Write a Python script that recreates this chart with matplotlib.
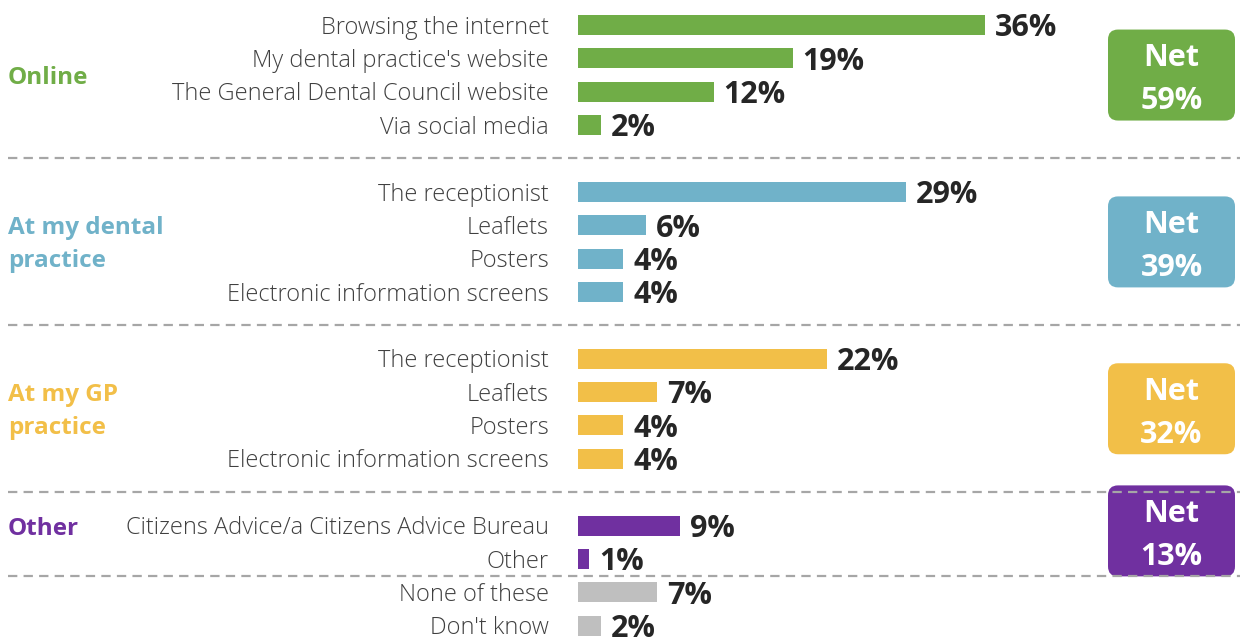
import matplotlib.pyplot as plt
from matplotlib.patches import FancyBboxPatch

# survey answers, grouped by source
group_names = ["Online", "At my dental\npractice", "At my GP\npractice", "Other", ""]
group_colors = ["#70AD47", "#70B2C9", "#F2BF48", "#7030A0", "#BFBFBF"]

online_labels = ["Browsing the internet", "My dental practice's website",
                 "The General Dental Council website", "Via social media"]
online_values = [36, 19, 12, 2]
dental_labels = ["The receptionist", "Leaflets", "Posters", "Electronic information screens"]
dental_values = [29, 6, 4, 4]
gp_labels = ["The receptionist", "Leaflets", "Posters", "Electronic information screens"]
gp_values = [22, 7, 4, 4]
other_labels = ["Citizens Advice/a Citizens Advice Bureau", "Other"]
other_values = [9, 1]
rest_labels = ["None of these", "Don't know"]
rest_values = [7, 2]

net_values = [59, 39, 32, 13]

group_labels = [online_labels, dental_labels, gp_labels, other_labels, rest_labels]
group_values = [online_values, dental_values, gp_values, other_values, rest_values]
gaps = [1, 1, 1, 0, None]  # empty row slots after each group

FONT = "Open Sans"
LABEL_C = "#404040"
VALUE_C = "#262626"

W, H = 1240, 642
PX_X = 11.3    # pixels per percentage point
PX_Y = 33.37   # pixels per row
X0 = 578       # pixel position of the zero line
Y0 = 25        # pixel position of the first row

fig = plt.figure(figsize=(W / 100, H / 100), dpi=100)
ax = fig.add_axes([0, 0, 1, 1])
ax.set_xlim(-X0 / PX_X, (W - X0) / PX_X)
ax.set_ylim((H - Y0) / PX_Y, -Y0 / PX_Y)
ax.axis("off")

def px_x(p):
    return (p - X0) / PX_X

pos = 0
for gi, (labels, values) in enumerate(zip(group_labels, group_values)):
    color = group_colors[gi]
    rows = [pos + i for i in range(len(values))]
    ax.barh(rows, values, height=0.6, left=0, color=color)
    for r, lab, v in zip(rows, labels, values):
        ax.text(px_x(549), r + 0.08, lab, ha="right", va="center", fontsize=17,
                family=FONT, fontweight="light", color=LABEL_C)
        ax.text(v + 10 / PX_X, r + 0.1, f"{v}%", ha="left", va="center",
                fontsize=22, family=FONT, fontweight="bold", color=VALUE_C)

    if group_names[gi]:
        gy = rows[0] if gi == 3 else (rows[0] + rows[-1]) / 2
        ax.text(px_x(8), gy + 0.09, group_names[gi], ha="left", va="center",
                fontsize=17.5, family=FONT, fontweight="bold", color=color,
                linespacing=1.49)

    if gi < len(net_values):
        # rounded "Net" box on the right
        cy = (rows[0] + rows[-1]) / 2 if gi < 3 else rows[0] + 0.16
        bw, bh = 127 / PX_X, 91 / PX_Y
        r = 10 / PX_X
        box = FancyBboxPatch((px_x(1108) + r, cy - bh / 2 + r * PX_X / PX_Y),
                             bw - 2 * r, bh - 2 * r * PX_X / PX_Y,
                             boxstyle=f"round,pad={r},rounding_size={r}",
                             mutation_aspect=PX_X / PX_Y,
                             facecolor=color, edgecolor="none")
        ax.add_patch(box)
        ax.text(px_x(1108) + bw / 2, cy + 0.14, f"Net\n{net_values[gi]}%", ha="center",
                va="center", fontsize=22, family=FONT, fontweight="bold",
                color="white", linespacing=1.56)

    if gaps[gi] is not None:
        sep = rows[-1] + (gaps[gi] + 1) / 2
        ax.plot([px_x(8), px_x(W)], [sep, sep], color="#A6A6A6", lw=1.6,
                dashes=(4.2, 2.8))
        pos = rows[-1] + gaps[gi] + 1

fig.savefig("out.png", dpi=100)
